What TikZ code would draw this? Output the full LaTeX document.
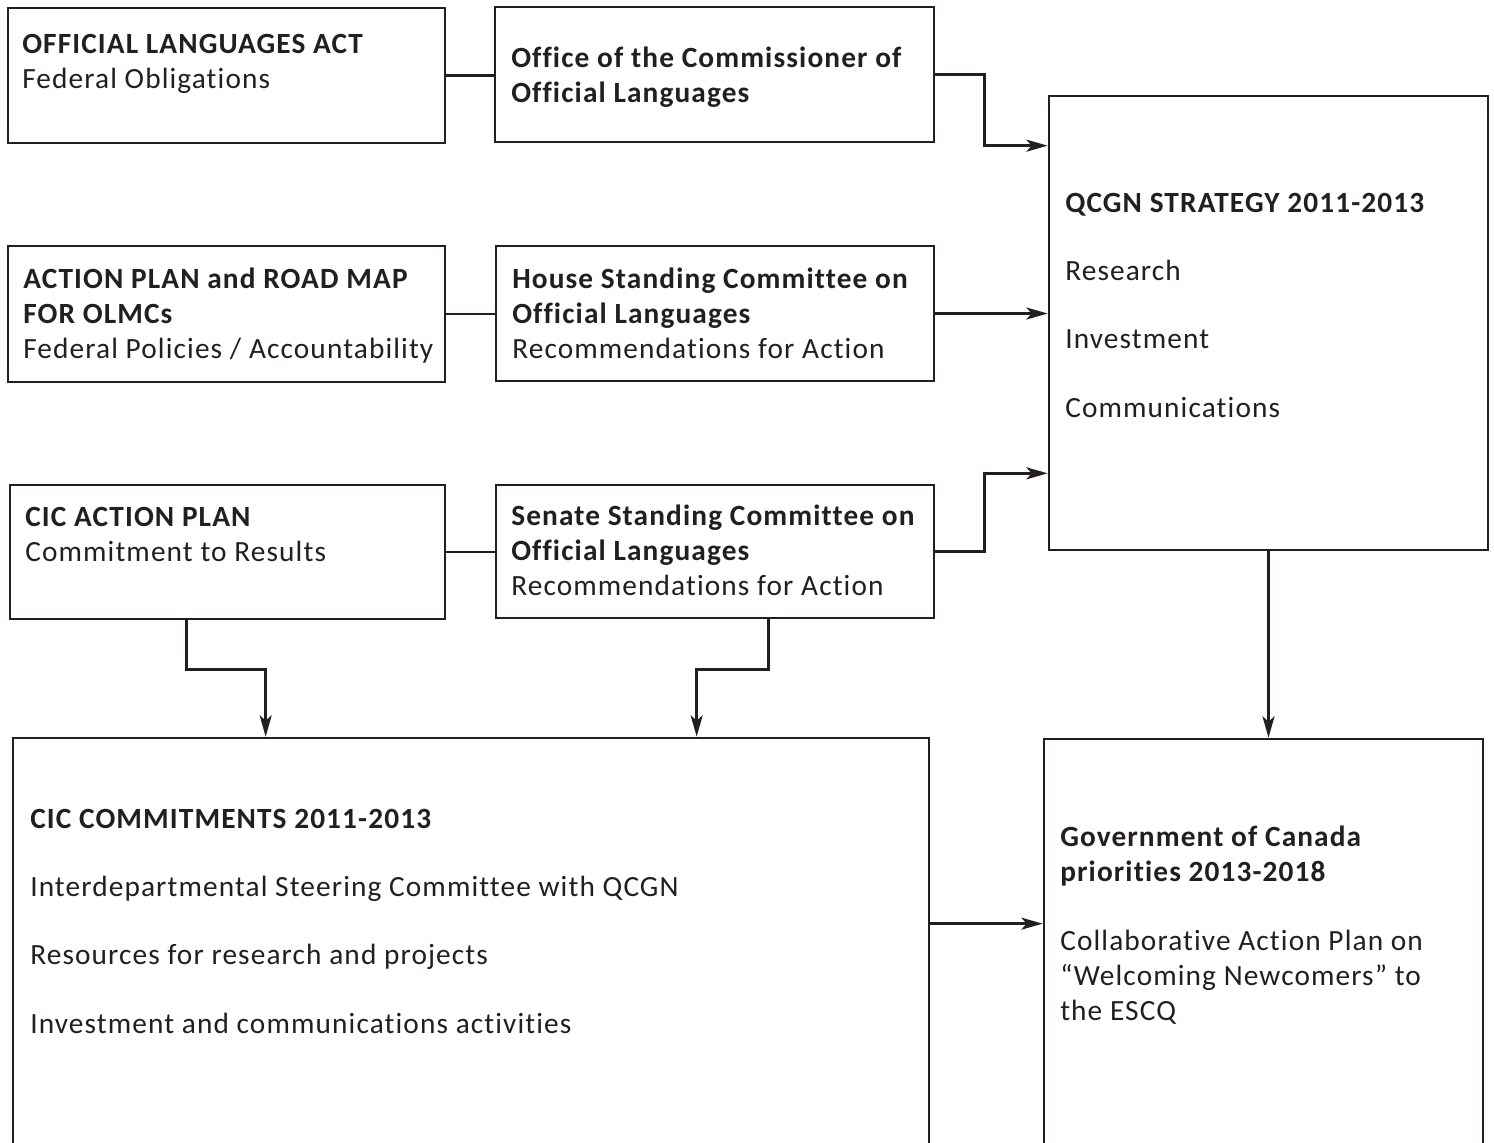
\documentclass[tikz,border=0pt]{standalone}
\usepackage{fontspec}
\setmainfont{Carlito}[LetterSpace=3.8,Ligatures={NoCommon}]
\usetikzlibrary{fit,calc,arrows.meta}
\definecolor{ink}{HTML}{231F20}
\newcommand{\txtblock}[1]{\begin{tabular}[t]{@{}l@{}}#1\end{tabular}}
\begin{document}
\begin{tikzpicture}[x=0.75pt,y=-0.75pt,
  box/.style={draw=ink, line width=2pt, inner sep=0pt, rectangle},
  txt/.style={anchor=base west, inner sep=0pt, text=ink,
    font=\fontsize{22}{26.25}\selectfont},
  conn/.style={draw=ink, line width=2pt},
  arr/.style={conn, -{Stealth[length=16pt,width=9pt,inset=4pt]}}]
\clip (0,0) rectangle (1494,1142);
\fill[white] (0,0) rectangle (1494,1142);

% boxes
\node[box, fit={(8,8)(445,143)}] (A) {};
\node[box, fit={(495,7)(934,142)}] (B) {};
\node[box, fit={(1049,96)(1488,550)}] (Q) {};
\node[box, fit={(8,246)(445,382)}] (C) {};
\node[box, fit={(496,246)(934,381)}] (D) {};
\node[box, fit={(10,485)(445,619)}] (E) {};
\node[box, fit={(496,485)(934,618)}] (F) {};
\node[box, fit={(13,738)(929,1170)}] (G) {};
\node[box, fit={(1044,739)(1483,1170)}] (H) {};

% texts
\node[txt] (tA) at (22,53) {\txtblock{\textbf{OFFICIAL LANGUAGES ACT}\\Federal Obligations}};
\node[txt] (tB) at (511,67) {\txtblock{\textbf{Office of the Commissioner of}\\\textbf{Official Languages}}};
\node[txt] (tQ) at (1065,212) {\txtblock{\textbf{QCGN STRATEGY 2011-2013}\\[25pt]Research\\[25pt]Investment\\[25pt]Communications}};
\node[txt] (tC) at (23,288) {\txtblock{\textbf{ACTION PLAN and ROAD MAP}\\\textbf{FOR OLMCs}\\Federal Policies / Accountability}};
\node[txt] (tD) at (512,288) {\txtblock{\textbf{House Standing Committee on}\\\textbf{Official Languages}\\Recommendations for Action}};
\node[txt] (tE) at (25,526) {\txtblock{\textbf{CIC ACTION PLAN}\\Commitment to Results}};
\node[txt] (tF) at (511,525) {\txtblock{\textbf{Senate Standing Committee on}\\\textbf{Official Languages}\\Recommendations for Action}};
\node[txt] (tG) at (30,828) {\txtblock{\textbf{CIC COMMITMENTS 2011-2013}\\[25pt]Interdepartmental Steering Committee with QCGN\\[25pt]Resources for research and projects\\[25pt]Investment and communications activities}};
\node[txt] (tH) at (1060,846) {\txtblock{\textbf{Government of Canada}\\\textbf{priorities 2013-2018}\\[26pt]Collaborative Action Plan on\\“Welcoming Newcomers” to\\the ESCQ}};

% connector helper points
\coordinate (q1) at ($(Q.north west)+(0,51)$);
\coordinate (q3) at ($(Q.south west)+(0,-78)$);
\coordinate (e1) at ($(E.south west)+(178,0)$);
\coordinate (g1) at ($(G.north west)+(254,0)$);
\coordinate (f1) at ($(F.south west)+(274,0)$);
\coordinate (g2) at ($(G.north west)+(685,0)$);
\coordinate (g3) at ($(G.north east)+(0,187)$);

% connectors
\draw[conn] (A.east) -- (A.east -| B.west);
\draw[conn] (C.east) -- (C.east -| D.west);
\draw[conn] (E.east) -- (E.east -| F.west);
\draw[arr] (B.east) -- ++(49,0) |- (q1);
\draw[arr] (D.east) -- (D.east -| Q.west);
\draw[arr] (F.east) -- ++(49,0) |- (q3);
\draw[arr] (e1) -- ++(0,49) -| (g1);
\draw[arr] (f1) -- ++(0,50) -| (g2);
\draw[arr] (Q.south) -- (Q.south |- H.north);
\draw[arr] (g3) -- (g3 -| H.west);
\end{tikzpicture}
\end{document}
